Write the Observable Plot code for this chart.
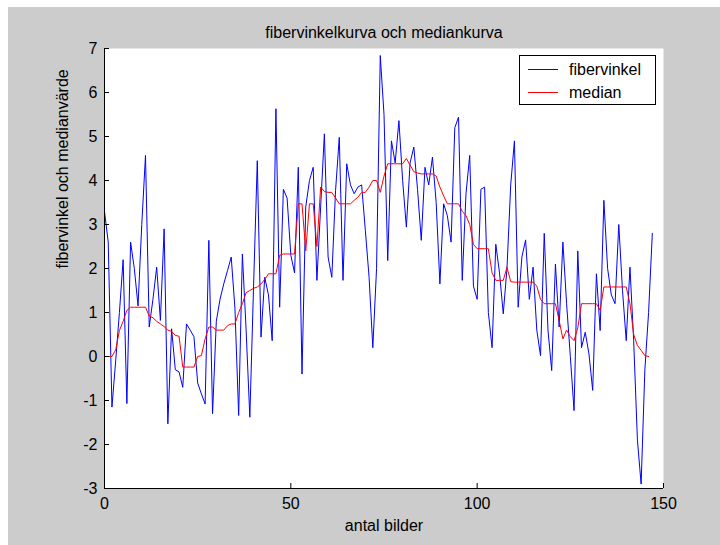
<!DOCTYPE html>
<html>
<head>
<meta charset="utf-8">
<script src="https://cdn.jsdelivr.net/npm/d3@7"></script>
<script src="https://cdn.jsdelivr.net/npm/@observablehq/plot@0.6"></script>
<style>
  html, body { margin: 0; padding: 0; background: #fff; }
  #wrap { position: relative; width: 720px; height: 545px; }
  #legend { position: absolute; left: 519px; top: 55px; }
</style>
</head>
<body>
<div id="wrap"></div>
<script>
// Title and labels
const titleText = "fibervinkelkurva och mediankurva";
const xLabelText = "antal bilder";
const yLabelText = "fibervinkel och medianvärde";
const seriesNames = ["fibervinkel", "median"];
const seriesColors = ["#0000ff", "#ff0000"];

// Tick values
const xTicks = [0, 50, 100, 150];
const yTicks = [-3, -2, -1, 0, 1, 2, 3, 4, 5, 6, 7];

// fibervinkel, one value per frame (frame 0..147)
const fiber = [
  3.3, 2.6, -1.15, -0.1, 1.0, 2.2, -1.07, 2.6, 2.0, 1.15,
  3.0, 4.57, 0.67, 1.3, 2.03, 0.82, 2.9, -1.53, 0.63, -0.3,
  -0.35, -0.7, 0.74, 0.6, 0.45, -0.6, -0.85, -1.08, 2.64, -1.3,
  0.8, 1.3, 1.65, 1.95, 2.26, 1.1, -1.34, 2.33, 0.6, -1.38,
  1.6, 4.45, 0.44, 1.8, 1.4, 0.36, 5.63, 1.12, 3.8, 3.6,
  2.3, 1.9, 4.3, -0.4, 3.4, 4.0, 4.3, 1.73, 3.4, 5.06,
  2.26, 1.8, 3.77, 4.98, 1.73, 4.38, 3.9, 3.7, 3.85, 3.9,
  2.86, 1.8, 0.2, 2.0, 6.84, 5.5, 2.18, 4.9, 4.4, 5.36,
  4.0, 2.94, 4.4, 4.76, 3.8, 2.64, 4.3, 3.9, 4.53, 3.5,
  1.65, 3.47, 3.2, 2.6, 5.2, 5.44, 1.73, 3.7, 4.57, 1.6,
  1.3, 3.8, 3.85, 1.0, 0.2, 2.55, 1.9, 0.97, 2.0, 3.9,
  4.9, 1.12, 2.26, 2.65, 1.3, 2.03, 0.6, 0.02, 2.8, 0.6,
  -0.32, 2.1, 0.67, 2.6, 1.2, 0.0, -1.23, 2.4, 0.2, 0.55,
  0.06, -0.77, 1.88, 0.59, 3.55, 2.0, 1.4, 1.2, 3.0, 1.5,
  0.36, 2.03, 0.36, -1.9, -2.9, -0.3, 1.0, 2.8
];

// median, one value per frame (frame 0..146)
const median = [
  0, 0, 0, 0.15, 0.59, 0.8, 1.05, 1.12, 1.12, 1.12,
  1.12, 1.12, 0.92, 0.88, 0.8, 0.74, 0.68, 0.6, 0.57, 0.48,
  0.46, -0.24, -0.24, -0.24, -0.24, 0.0, 0.02, 0.4, 0.67, 0.67,
  0.6, 0.6, 0.6, 0.7, 0.74, 0.74, 1.0, 1.2, 1.45, 1.5,
  1.55, 1.58, 1.65, 1.75, 1.88, 1.88, 1.88, 2.3, 2.33, 2.33,
  2.33, 2.33, 3.47, 3.47, 2.4, 3.47, 3.47, 2.5, 3.85, 3.75,
  3.73, 3.73, 3.6, 3.47, 3.47, 3.47, 3.47, 3.55, 3.62, 3.73,
  3.73, 3.85, 4.0, 4.0, 3.73, 4.1, 4.38, 4.38, 4.38, 4.38,
  4.38, 4.5, 4.35, 4.2, 4.17, 4.15, 4.15, 4.15, 4.15, 4.1,
  3.85, 3.65, 3.47, 3.47, 3.47, 3.47, 3.3, 3.2, 3.0, 2.55,
  2.45, 2.45, 2.45, 2.45, 1.9, 1.73, 1.73, 1.73, 2.03, 1.7,
  1.69, 1.69, 1.69, 1.69, 1.69, 1.69, 1.6, 1.3, 1.2, 1.2,
  1.2, 1.2, 0.82, 0.4, 0.6, 0.45, 0.36, 0.65, 1.2, 1.2,
  1.2, 1.2, 1.2, 1.05, 1.58, 1.58, 1.58, 1.58, 1.58, 1.58,
  1.58, 1.2, 0.5, 0.25, 0.14, 0.02, 0.0
];

const fiberData = fiber.map((v, i) => ({frame: i, value: v}));
const medianData = median.map((v, i) => ({frame: i, value: v}));

const font = "'Liberation Sans', Arial, Helvetica, sans-serif";
const plainFormat = d => String(d);

const chart = Plot.plot({
  width: 720,
  height: 545,
  marginLeft: 104,
  marginRight: 57,
  marginTop: 48,
  marginBottom: 57,
  style: {
    background: "linear-gradient(#cccccc, #cccccc) 8px 7px / 712px 538px no-repeat, #ffffff",
    fontFamily: font,
    fontSize: "16px",
    color: "#000",
    overflow: "visible"
  },
  x: {domain: [0, 150]},
  y: {domain: [-3, 7]},
  marks: [
    Plot.frame({fill: "white", stroke: "none"}),
    Plot.line(fiberData, {x: "frame", y: "value", stroke: seriesColors[0], strokeWidth: 1}),
    Plot.line(medianData, {x: "frame", y: "value", stroke: seriesColors[1], strokeWidth: 1}),
    Plot.ruleX([0], {stroke: "#000"}),
    Plot.ruleY([-3], {stroke: "#000"}),
    Plot.axisY(yTicks, {tickSize: -5, tickPadding: 12, tickFormat: plainFormat, label: null, fontSize: 16, stroke: "#000", fill: "#000"}),
    Plot.axisX(xTicks, {tickSize: -5, tickPadding: 14, tickFormat: plainFormat, label: null, fontSize: 16, stroke: "#000", fill: "#000"}),
    Plot.text([titleText], {text: d => d, frameAnchor: "top", dy: -16, lineAnchor: "middle", fontSize: 16, fill: "#000"}),
    Plot.text([xLabelText], {text: d => d, frameAnchor: "bottom", dy: 37, lineAnchor: "middle", fontSize: 16, fill: "#000"}),
    Plot.text([yLabelText], {text: d => d, frameAnchor: "left", dx: -42, rotate: -90, lineAnchor: "middle", fontSize: 16, fill: "#000"})
  ]
});

const wrap = document.getElementById("wrap");
wrap.appendChild(chart);

// Legend box (overlay)
const ns = "http://www.w3.org/2000/svg";
const leg = document.createElementNS(ns, "svg");
leg.setAttribute("id", "legend");
leg.setAttribute("width", 137);
leg.setAttribute("height", 50);
leg.style.position = "absolute";
leg.style.left = "519px";
leg.style.top = "55px";
const box = document.createElementNS(ns, "rect");
box.setAttribute("x", 0.5); box.setAttribute("y", 0.5);
box.setAttribute("width", 136); box.setAttribute("height", 49);
box.setAttribute("fill", "#fff"); box.setAttribute("stroke", "#000");
leg.appendChild(box);
seriesNames.forEach((name, i) => {
  const yy = 14 + i * 23;
  const ln = document.createElementNS(ns, "line");
  ln.setAttribute("x1", 9); ln.setAttribute("x2", 39);
  ln.setAttribute("y1", yy + 0.5); ln.setAttribute("y2", yy + 0.5);
  ln.setAttribute("stroke", seriesColors[i]);
  leg.appendChild(ln);
  const tx = document.createElementNS(ns, "text");
  tx.setAttribute("x", 50); tx.setAttribute("y", yy + 6);
  tx.setAttribute("font-family", font);
  tx.setAttribute("font-size", 16);
  tx.setAttribute("fill", "#000");
  tx.textContent = name;
  leg.appendChild(tx);
});
wrap.appendChild(leg);
</script>
</body>
</html>
